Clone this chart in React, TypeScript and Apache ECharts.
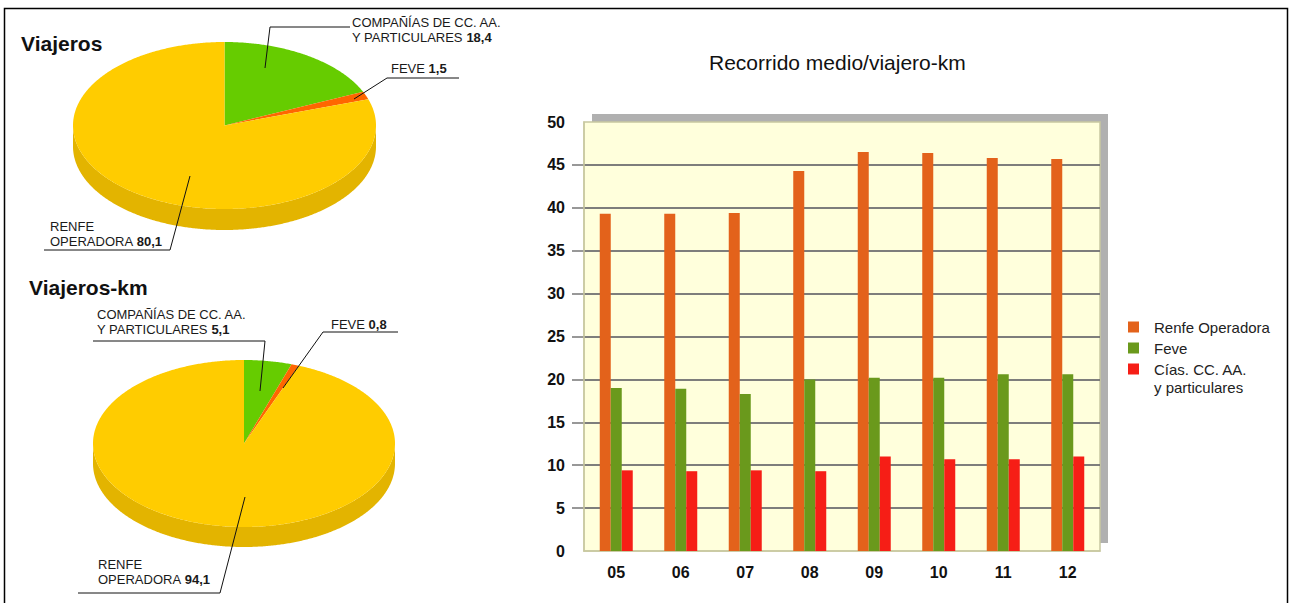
import React, { useEffect, useRef } from 'react';
import * as echarts from 'echarts';

// ---------- data ----------
const years = ['05', '06', '07', '08', '09', '10', '11', '12'];
const renfe = [39.3, 39.3, 39.4, 44.3, 46.5, 46.4, 45.8, 45.7];
const feve = [19.0, 18.9, 18.3, 20.0, 20.2, 20.2, 20.6, 20.6];
const cias = [9.4, 9.3, 9.4, 9.3, 11.0, 10.7, 10.7, 11.0];
const seriesNames = ['Renfe Operadora', 'Feve', 'Cías. CC. AA.\ny particulares'];
const yMin = 0;
const yMax = 50;
const yInterval = 5;

const pieLabelLines = [['COMPAÑÍAS DE CC. AA.', 'Y PARTICULARES'], ['FEVE'], ['RENFE', 'OPERADORA']];
const viajeros = [18.4, 1.5, 80.1];
const viajerosKm = [5.1, 0.8, 94.1];
const pieTitles = ['Viajeros', 'Viajeros-km'];
const barTitle = 'Recorrido medio/viajero-km';

// ---------- styles / layout ----------
const FONT = '"Liberation Sans", Arial, sans-serif';
const NARROW = '"Liberation Sans Narrow", "Arial Narrow", "Liberation Sans", sans-serif';
const barColors = ['#e3621b', '#6a991c', '#f61e16'];
const pieTopColors = ['#66cc00', '#ff6600', '#ffcc00'];
const pieSideColors = ['#52a300', '#cc5200', '#e3b400'];

const pieGeo = [
  { cx: 224.5, cy: 125.5, rx: 151.5, ry: 83.5, depth: 21 },
  { cx: 244, cy: 443.5, rx: 151, ry: 83.5, depth: 20 },
];
const pieLabelPos = [
  [{ x: 352, y: 14.5 }, { x: 391, y: 60.5 }, { x: 50, y: 218.5 }],
  [{ x: 97, y: 306.5 }, { x: 331, y: 316.5 }, { x: 98, y: 556.5 }],
];
const pieLeaders = [
  [
    [[265, 68], [270, 27], [350, 27]],
    [[354, 99], [387, 78], [459, 78]],
    [[190, 176], [170, 250], [44, 250]],
  ],
  [
    [[260, 391], [265, 341], [93, 341]],
    [[283, 388], [323, 332], [398, 332]],
    [[245, 497], [220, 593], [78, 593]],
  ],
];

const fmt = (v: number) => v.toFixed(1).replace('.', ',');

function pieLabelText(i: number, v: number) {
  const lines = pieLabelLines[i];
  const last = lines.length - 1;
  return lines.map((l, j) => (j === last ? `{n|${l} }{b|${fmt(v)}}` : `{n|${l}}`)).join('\n');
}

function makePieSeries(values: number[], geo: { cx: number; cy: number; rx: number; ry: number; depth: number }) {
  const total = values.reduce((a, b) => a + b, 0);
  const starts: number[] = [];
  let acc = 0;
  values.forEach((v) => {
    starts.push(acc);
    acc += v;
  });
  const pt = (t: number, dy = 0) => [geo.cx + geo.rx * Math.sin(t), geo.cy - geo.ry * Math.cos(t) + dy];
  return {
    type: 'custom',
    coordinateSystem: 'none',
    silent: true,
    data: values.map((v, i) => [i, v]),
    renderItem: (params: any) => {
      const i = params.dataIndex;
      const a0 = (starts[i] / total) * 2 * Math.PI;
      const a1 = ((starts[i] + values[i]) / total) * 2 * Math.PI;
      const step = Math.PI / 360;
      const children: any[] = [];
      const s0 = Math.max(a0, Math.PI / 2);
      const s1 = Math.min(a1, 1.5 * Math.PI);
      if (s1 > s0) {
        const m = Math.max(2, Math.ceil((s1 - s0) / step));
        const up: number[][] = [];
        const down: number[][] = [];
        for (let k = 0; k <= m; k++) {
          const t = s0 + ((s1 - s0) * k) / m;
          up.push(pt(t));
          down.push(pt(t, geo.depth));
        }
        children.push({
          type: 'polygon',
          shape: { points: up.concat(down.reverse()) },
          style: { fill: pieSideColors[i] },
        });
      }
      const n = Math.max(2, Math.ceil((a1 - a0) / step));
      const top: number[][] = [[geo.cx, geo.cy]];
      for (let k = 0; k <= n; k++) top.push(pt(a0 + ((a1 - a0) * k) / n));
      children.push({ type: 'polygon', shape: { points: top }, style: { fill: pieTopColors[i] } });
      return { type: 'group', children };
    },
  };
}

function pieGraphics(values: number[], p: number) {
  const els: any[] = [];
  values.forEach((v, i) => {
    els.push({
      type: 'polyline',
      z: 20,
      shape: { points: pieLeaders[p][i] },
      style: { stroke: '#111', lineWidth: 1, fill: 'none' },
      silent: true,
    });
    els.push({
      type: 'text',
      z: 20,
      x: pieLabelPos[p][i].x,
      y: pieLabelPos[p][i].y,
      style: {
        text: pieLabelText(i, v),
        fill: '#1a1a1a',
        fontFamily: FONT,
        fontSize: 13,
        lineHeight: 15,
        verticalAlign: 'top',
        align: 'left',
        rich: {
          n: { fontFamily: FONT, fontSize: 13, lineHeight: 15, fill: '#1a1a1a' },
          b: { fontFamily: FONT, fontSize: 13, lineHeight: 15, fontWeight: 'bold', fill: '#1a1a1a' },
        },
      },
      silent: true,
    });
  });
  return els;
}

const GRID = { left: 584, right: 190, top: 122, bottom: 52 };

const legendBase = {
  orient: 'vertical',
  left: 1128,
  padding: 0,
  itemWidth: 11,
  itemHeight: 11,
  icon: 'rect',
  selectedMode: false,
};
const legendText = { fontFamily: FONT, fontSize: 15, lineHeight: 18, color: '#222', padding: [0, 0, 0, 10] };

const option: any = {
  animation: false,
  backgroundColor: '#ffffff',
  textStyle: { fontFamily: FONT },
  title: [
    {
      text: pieTitles[0],
      left: 21,
      top: 31,
      padding: 0,
      textStyle: { fontFamily: FONT, fontSize: 21, fontWeight: 'bold', color: '#111', lineHeight: 24 },
    },
    {
      text: pieTitles[1],
      left: 29,
      top: 275,
      padding: 0,
      textStyle: { fontFamily: FONT, fontSize: 21, fontWeight: 'bold', color: '#111', lineHeight: 24 },
    },
    {
      text: barTitle,
      left: 709,
      top: 50,
      padding: 0,
      textStyle: { fontFamily: FONT, fontSize: 21, fontWeight: 'normal', color: '#111', lineHeight: 24 },
    },
  ],
  legend: [
    { ...legendBase, top: 318, data: [seriesNames[0]], textStyle: legendText },
    { ...legendBase, top: 339, data: [seriesNames[1]], textStyle: legendText },
    {
      ...legendBase,
      top: 342,
      data: [seriesNames[2]],
      formatter: (name: string) => '\n' + name,
      textStyle: legendText,
    },
  ],
  grid: [
    {
      ...GRID,
      show: true,
      backgroundColor: '#ffffdc',
      borderColor: '#c8c8a0',
      borderWidth: 1.5,
    },
    { left: 572, right: 190, top: 122, bottom: 52, show: false },
  ],
  xAxis: [
    {
      type: 'category',
      gridIndex: 0,
      data: years,
      axisLine: { show: true, lineStyle: { color: '#c8c8a0', width: 1.5 } },
      axisTick: { show: false },
      axisLabel: {
        margin: 13,
        fontFamily: NARROW,
        fontSize: 16,
        fontWeight: 'bold',
        lineHeight: 16,
        color: '#111',
      },
    },
    { type: 'category', gridIndex: 1, data: years, show: false },
  ],
  yAxis: [
    {
      type: 'value',
      gridIndex: 0,
      min: yMin,
      max: yMax,
      interval: yInterval,
      axisLine: { show: true, lineStyle: { color: '#c8c8a0', width: 1.5 } },
      axisTick: { show: false },
      axisLabel: {
        margin: 19,
        fontFamily: NARROW,
        fontSize: 16,
        fontWeight: 'bold',
        color: '#111',
      },
      splitLine: {
        show: true,
        showMinLine: false,
        showMaxLine: false,
        lineStyle: { color: '#767676', width: 1.5 },
      },
    },
    {
      type: 'value',
      gridIndex: 1,
      min: yMin,
      max: yMax,
      interval: yInterval,
      axisLine: { show: false },
      axisTick: { show: false },
      axisLabel: { show: false },
      splitLine: {
        show: true,
        showMinLine: false,
        showMaxLine: false,
        lineStyle: { color: '#767676', width: 1.5 },
      },
    },
  ],
  series: [
    {
      name: seriesNames[0],
      type: 'bar',
      data: renfe,
      barWidth: 11,
      barGap: '0%',
      itemStyle: { color: barColors[0] },
    },
    {
      name: seriesNames[1],
      type: 'bar',
      data: feve,
      barWidth: 11,
      barGap: '0%',
      itemStyle: { color: barColors[1] },
    },
    {
      name: seriesNames[2],
      type: 'bar',
      data: cias,
      barWidth: 11,
      barGap: '0%',
      itemStyle: { color: barColors[2] },
    },
    makePieSeries(viajeros, pieGeo[0]),
    makePieSeries(viajerosKm, pieGeo[1]),
  ],
  graphic: [
    {
      type: 'rect',
      z: -10,
      silent: true,
      shape: { x: 592, y: 114, width: 516, height: 429 },
      style: { fill: '#b0b0b0' },
    },
    {
      type: 'rect',
      z: 30,
      silent: true,
      shape: { x: 4.5, y: 8.5, width: 1283, height: 700 },
      style: { fill: 'none', stroke: '#000', lineWidth: 1.5 },
    },
    ...pieGraphics(viajeros, 0),
    ...pieGraphics(viajerosKm, 1),
  ],
};

export default function App() {
  const ref = useRef<HTMLDivElement>(null);
  useEffect(() => {
    if (!ref.current) return;
    const chart = echarts.init(ref.current, null, { renderer: 'svg' });
    chart.setOption(option);
    return () => chart.dispose();
  }, []);
  return (
    <div
      ref={ref}
      style={{ position: 'fixed', left: 0, top: 0, width: 1290, height: 603, background: '#fff' }}
    />
  );
}
